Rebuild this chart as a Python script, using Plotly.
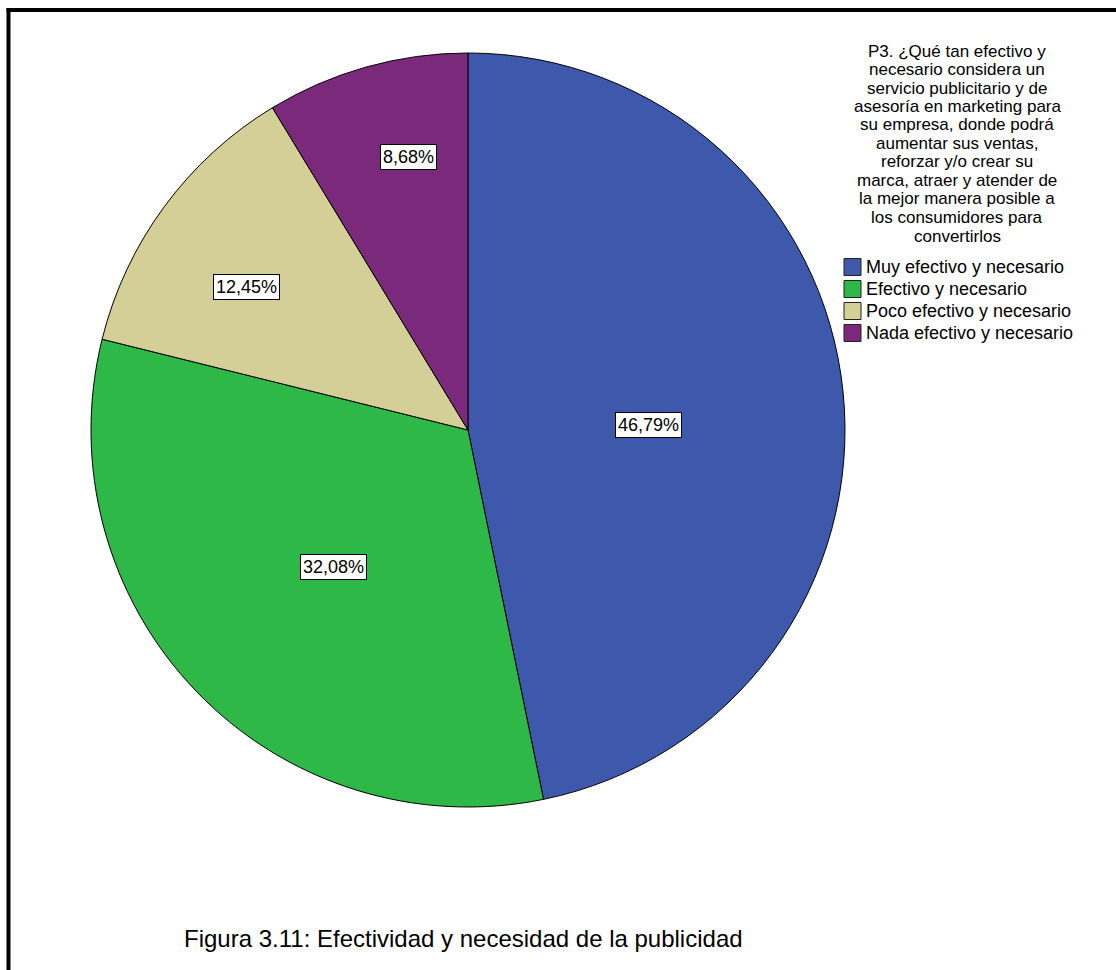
import math
import plotly.graph_objects as go

# ---- data ----
labels = ["Muy efectivo y necesario", "Efectivo y necesario",
          "Poco efectivo y necesario", "Nada efectivo y necesario"]
values = [46.79, 32.08, 12.45, 8.68]
colors = ["#3E58AC", "#2EB848", "#D4CE97", "#7B2A7B"]
legend_title_lines = [
    "P3. ¿Qué tan efectivo y",
    "necesario considera un",
    "servicio publicitario y de",
    "asesoría en marketing para",
    "su empresa, donde podrá",
    "aumentar sus ventas,",
    "reforzar y/o crear su",
    "marca, atraer y atender de",
    "la mejor manera posible a",
    "los consumidores para",
    "convertirlos",
]
caption = "Figura 3.11: Efectividad y necesidad de la publicidad"

# ---- layout / style constants (pixels) ----
W, H = 1116, 970
CX, CY, R = 468, 430, 377
label_radius = [0.48, 0.51, 0.70, 0.74]
label_angle_shift = [4.2, -1.6, -3.6, 3.4]   # degrees, label placement tweak
FONT = "Arial, Liberation Sans, sans-serif"

fig = go.Figure(go.Pie(
    labels=labels, values=values, sort=False,
    direction="clockwise", rotation=0,
    marker=dict(colors=colors, line=dict(color="black", width=1)),
    textinfo="none", hoverinfo="label+percent",
    showlegend=False,
    domain=dict(x=[(CX - R) / W, (CX + R) / W],
                y=[1 - (CY + R) / H, 1 - (CY - R) / H]),
))

annotations = []
shapes = []
total = sum(values)
cum = 0.0
for v, f, da in zip(values, label_radius, label_angle_shift):
    theta = 2 * math.pi * (cum + v / 2) / total + math.radians(da)
    cum += v
    px = CX + f * R * math.sin(theta)
    py = CY - f * R * math.cos(theta)
    annotations.append(dict(
        x=px / W, y=1 - py / H, xref="paper", yref="paper",
        xanchor="center", yanchor="middle",
        text=f"{v:.2f}%".replace(".", ","), showarrow=False,
        font=dict(family=FONT, size=18, color="black"),
        bgcolor="white", bordercolor="black", borderwidth=1, borderpad=2,
    ))

# legend title
TX, TY0, TDY = 957, 51, 18.5
for i, line in enumerate(legend_title_lines):
    annotations.append(dict(
        x=TX / W, y=1 - (TY0 + i * TDY) / H, xref="paper", yref="paper",
        text=line, showarrow=False, xanchor="center", yanchor="middle",
        font=dict(family=FONT, size=17, color="black"),
    ))

# legend items (swatch + label) built from the data lists
LX, LY0, LDY, SW = 844, 267, 22, 17
for i, (lab, col) in enumerate(zip(labels, colors)):
    yc = LY0 + i * LDY
    shapes.append(dict(
        type="rect", xref="paper", yref="paper",
        x0=LX / W, x1=(LX + SW) / W,
        y0=1 - (yc + SW / 2) / H, y1=1 - (yc - SW / 2) / H,
        fillcolor=col, line=dict(color="#222222", width=1),
    ))
    annotations.append(dict(
        x=(LX + SW + 3) / W, y=1 - yc / H, xref="paper", yref="paper",
        text=lab, showarrow=False, xanchor="left", yanchor="middle",
        font=dict(family=FONT, size=18, color="black"),
    ))

annotations.append(dict(
    x=463 / W, y=1 - 938 / H, xref="paper", yref="paper",
    text=caption, showarrow=False, xanchor="center", yanchor="middle",
    font=dict(family=FONT, size=24, color="black"),
))

# outer frame
shapes += [
    dict(type="line", xref="paper", yref="paper",
         x0=6.5 / W, x1=1.0, y0=1 - 10 / H, y1=1 - 10 / H,
         line=dict(color="black", width=4)),
    dict(type="line", xref="paper", yref="paper",
         x0=8.5 / W, x1=8.5 / W, y0=1 - 8 / H, y1=0,
         line=dict(color="black", width=4)),
]

fig.update_layout(
    width=W, height=H, margin=dict(l=0, r=0, t=0, b=0),
    paper_bgcolor="white", plot_bgcolor="white",
    font=dict(family=FONT, color="black"),
    showlegend=False,
    annotations=annotations, shapes=shapes,
)

fig.write_html("out.html")
